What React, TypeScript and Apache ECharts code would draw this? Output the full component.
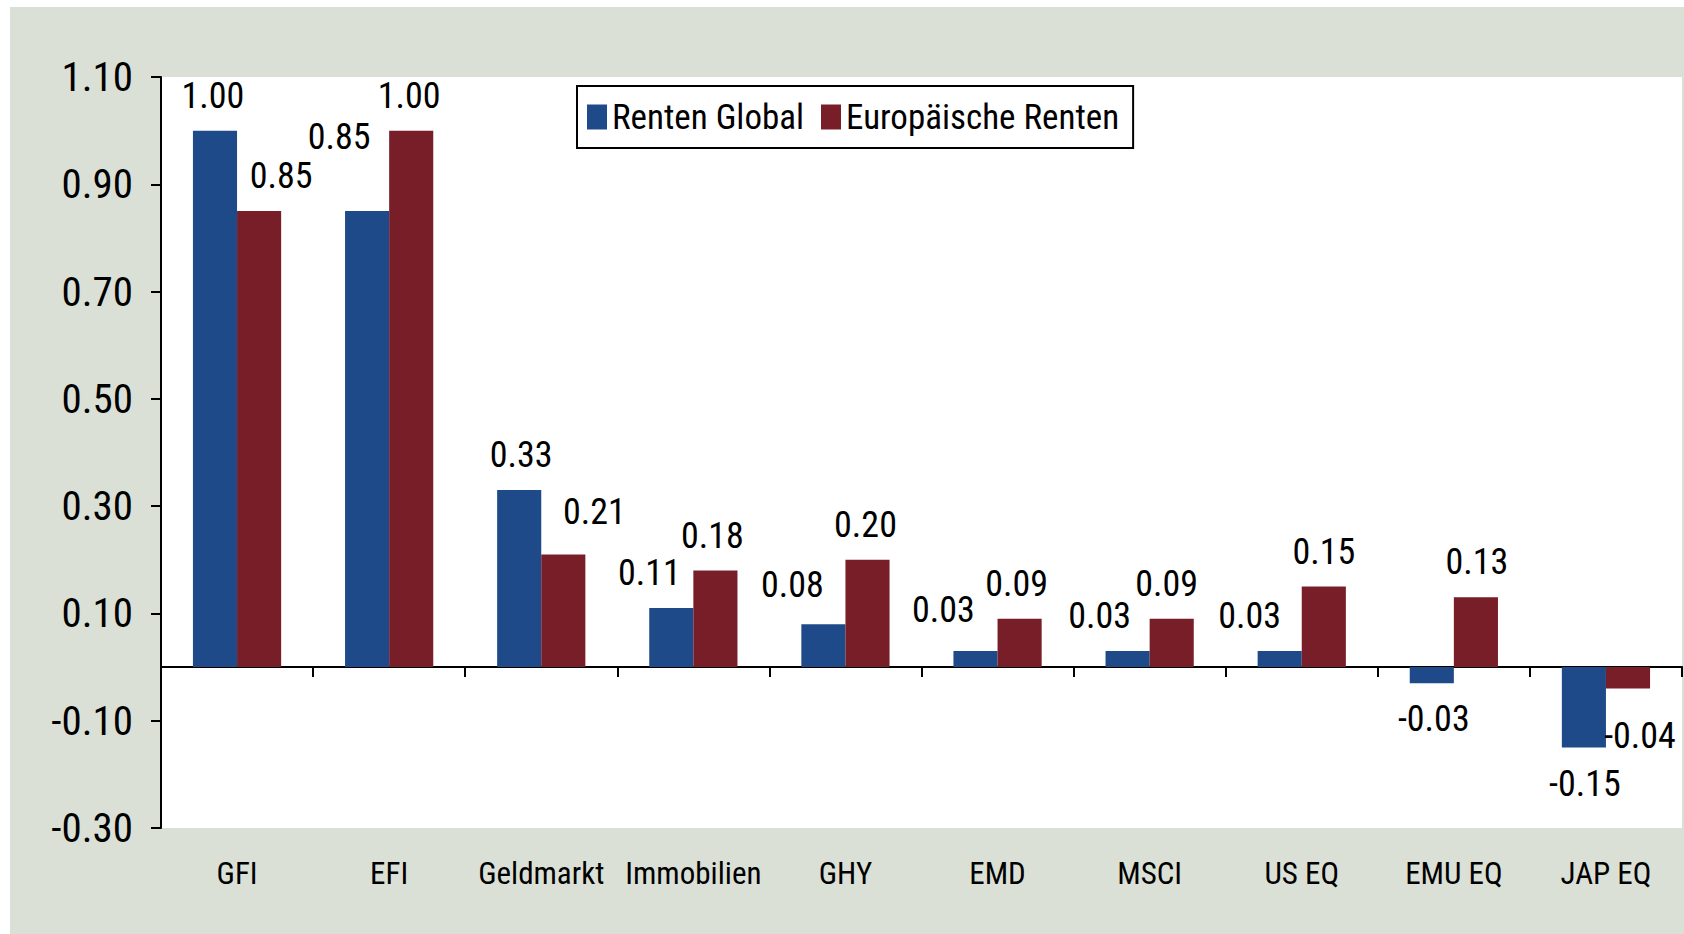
import React, { useEffect, useRef } from "react";
import * as echarts from "echarts";

const categories = ["GFI", "EFI", "Geldmarkt", "Immobilien", "GHY", "EMD", "MSCI", "US EQ", "EMU EQ", "JAP EQ"];
const seriesNames = ["Renten Global", "Europäische Renten"];
const rentenGlobal = [1.0, 0.85, 0.33, 0.11, 0.08, 0.03, 0.03, 0.03, -0.03, -0.15];
const europaeischeRenten = [0.85, 1.0, 0.21, 0.18, 0.2, 0.09, 0.09, 0.15, 0.13, -0.04];
const yTicks = [-0.3, -0.1, 0.1, 0.3, 0.5, 0.7, 0.9, 1.1];

// label nudges (style only), [dx, dy] in px
const blueNudges = [[-2, 0], [-28, -39], [2, 0], [-22, 0], [-31, -4], [-32, -6], [-28, 0], [-30, 0], [2, 1], [1, 1]];
const redNudges = [[22, 0], [-2, 0], [31, -7], [-3, 0], [-2, 0], [-3, 0], [-5, 0], [0, 0], [1, 0], [12, 12]];

const FONT = "'Roboto Condensed', 'DejaVu Sans Condensed', sans-serif";
const BLUE = "#1F4A8A";
const RED = "#771E28";
const BG = "#DBE0D7";

function makeData(values: number[], nudges: number[][]) {
  return values.map((v, i) => ({
    value: v,
    label: { position: v < 0 ? "bottom" : "top", offset: nudges[i] },
  }));
}

export default function App() {
  const ref = useRef<HTMLDivElement>(null);
  useEffect(() => {
    document.body.style.margin = "0";
    const chart = echarts.init(ref.current!, null, { renderer: "svg" });
    const labelCfg = {
      show: true,
      formatter: (p: any) => Number(p.value).toFixed(2),
      fontSize: 36,
      lineHeight: 36,
      fontFamily: FONT,
      color: "#000",
      distance: 17,
    };
    chart.setOption({
      animation: false,
      backgroundColor: BG,
      textStyle: { fontFamily: FONT },
      graphic: [
        { type: "rect", silent: true, shape: { x: 0, y: 0, width: 1684, height: 7 }, style: { fill: "#fff" } },
        { type: "rect", silent: true, shape: { x: 0, y: 0, width: 10, height: 934 }, style: { fill: "#fff" } },
      ],
      legend: {
        data: seriesNames,
        left: 577,
        top: 86,
        orient: "horizontal",
        backgroundColor: "#fff",
        borderColor: "#000",
        borderWidth: 2,
        borderRadius: 0,
        padding: [11, 14, 11, 10],
        itemWidth: 20,
        itemHeight: 25,
        itemGap: 17,
        itemTextGap: 9,
        icon: "rect",
        textStyle: { fontSize: 35, lineHeight: 40, color: "#000", fontFamily: FONT },
      },
      grid: {
        left: 161,
        top: 77,
        right: 2,
        bottom: 106,
        show: true,
        backgroundColor: "#fff",
        borderWidth: 0,
        containLabel: false,
        outerBoundsMode: "none",
      },
      xAxis: [
        {
          type: "category",
          data: categories,
          axisLine: { show: true, onZero: true, lineStyle: { color: "#000", width: 2 } },
          axisTick: { show: true, length: 10, lineStyle: { color: "#000", width: 2 } },
          axisLabel: { show: false },
          splitLine: { show: false },
        },
        {
          type: "category",
          data: categories,
          position: "bottom",
          axisLine: { show: false, onZero: false },
          axisTick: { show: false },
          axisLabel: { show: true, interval: 0, fontSize: 31, lineHeight: 32, margin: 29, color: "#000", fontFamily: FONT },
          splitLine: { show: false },
        },
      ],
      yAxis: {
        type: "value",
        min: -0.3,
        max: 1.1,
        axisLine: { show: true, lineStyle: { color: "#000", width: 2 } },
        axisTick: { show: true, length: 10, customValues: yTicks, lineStyle: { color: "#000", width: 2 } },
        axisLabel: {
          customValues: yTicks,
          formatter: (v: number) => v.toFixed(2),
          fontSize: 41,
          margin: 28,
          color: "#000",
          fontFamily: FONT,
        },
        splitLine: { show: false },
      },
      series: [
        {
          name: seriesNames[0],
          type: "bar",
          xAxisIndex: 0,
          data: makeData(rentenGlobal, blueNudges),
          barWidth: "29%",
          barGap: "0%",
          itemStyle: { color: BLUE },
          label: labelCfg,
        },
        {
          name: seriesNames[1],
          type: "bar",
          xAxisIndex: 0,
          data: makeData(europaeischeRenten, redNudges),
          barWidth: "29%",
          barGap: "0%",
          itemStyle: { color: RED },
          label: labelCfg,
        },
      ],
    });
    return () => chart.dispose();
  }, []);
  return <div ref={ref} style={{ width: 1684, height: 934 }} />;
}
